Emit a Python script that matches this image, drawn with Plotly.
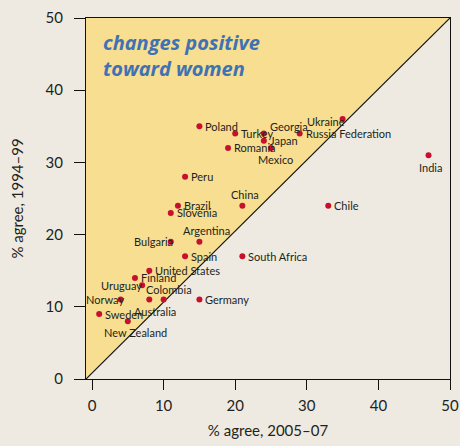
import plotly.graph_objects as go

countries = ["Poland", "Turkey", "Georgia", "Japan", "Mexico", "Romania",
             "Russia Federation", "Ukraine", "Peru", "China", "Chile", "Brazil",
             "Slovenia", "India", "Argentina", "Bulgaria", "Spain", "South Africa",
             "United States", "Finland", "Uruguay", "Norway", "Australia",
             "Colombia", "Germany", "Sweden", "New Zealand"]
agree_2005_07 = [15, 20, 24, 24, 25, 19, 29, 35, 13, 21, 33, 12, 11, 47, 15, 11,
                 13, 21, 8, 6, 7, 4, 8, 10, 15, 1, 5]
agree_1994_99 = [35, 34, 34, 33, 32, 32, 34, 36, 28, 24, 24, 24, 23, 31, 19, 19,
                 17, 17, 15, 14, 13, 11, 11, 11, 11, 9, 8]
tick_values = [0, 10, 20, 30, 40, 50]
x_title = "% agree, 2005–07"
y_title = "% agree, 1994–99"
note_text = "changes positive<br>toward women"

# label placement (style): (xanchor, xshift, yshift)
placement = {
    "Georgia": ("left", 4, 7),
    "Mexico": ("center", 4, -12),
    "China": ("center", 3, 11),
    "India": ("center", 2, -12),
    "Argentina": ("center", 7, 11),
    "Bulgaria": ("right", 4, 0),
    "Uruguay": ("right", 2, 0),
    "Colombia": ("center", 5, 10),
    "Norway": ("right", 5, 0),
    "Australia": ("center", 6, -12),
    "New Zealand": ("center", 8, -11),
    "Ukraine": ("right", 4, -2),
}

BG = "#EEEAE1"
FILL = "#F7DE91"
DOT = "#C8102E"
TXT = "#231F20"
XMIN, XMAX, YMIN, YMAX = -0.84, 50, 0, 50
FONT = "Lato, Liberation Sans, sans-serif"

fig = go.Figure()
# shaded region above the diagonal
fig.add_trace(go.Scatter(x=[XMIN, XMAX, XMIN, XMIN], y=[YMIN, YMAX, YMAX, YMIN],
                         mode="lines", fill="toself", fillcolor=FILL,
                         line=dict(width=0), hoverinfo="skip", showlegend=False))
fig.add_trace(go.Scatter(x=[XMIN, XMAX], y=[YMIN, YMAX], mode="lines",
                         line=dict(color="#111111", width=1.2),
                         hoverinfo="skip", showlegend=False))
fig.add_trace(go.Scatter(x=agree_2005_07, y=agree_1994_99, mode="markers",
                         marker=dict(color=DOT, size=6), text=countries,
                         showlegend=False))

for c, xv, yv in zip(countries, agree_2005_07, agree_1994_99):
    xa, xs, ys = placement.get(c, ("left", 4, 0))
    fig.add_annotation(x=xv, y=yv, text=c, showarrow=False, xanchor=xa,
                       yanchor="middle", xshift=xs, yshift=ys,
                       font=dict(family=FONT, size=11, color=TXT))

fig.add_annotation(x=0.04, y=0.976, xref="paper", yref="paper", text=note_text,
                   showarrow=False, xanchor="left", yanchor="top", align="left",
                   font=dict(family="Open Sans, Lato, sans-serif", size=20,
                             color="#3F72B4", style="italic", weight="bold"))

axis_common = dict(showline=True, linecolor="#111111", linewidth=1.2, mirror=True,
                   ticks="outside", tickcolor="#111111", tickwidth=1.2,
                   showgrid=False, zeroline=False, tickvals=tick_values,
                   automargin=False,
                   tickfont=dict(family=FONT, size=15, color=TXT))

fig.update_xaxes(range=[XMIN, XMAX], ticklen=10, ticklabelstandoff=3,
                 title=dict(text=x_title, standoff=12,
                            font=dict(family=FONT, size=15, color=TXT)),
                 **axis_common)
fig.update_yaxes(range=[YMIN, YMAX], ticklen=11, ticklabelstandoff=8,
                 title=dict(text=y_title, standoff=18,
                            font=dict(family=FONT, size=15, color=TXT)),
                 **axis_common)

fig.update_layout(width=460, height=446, margin=dict(l=86, r=10, t=18, b=67),
                  paper_bgcolor=BG, plot_bgcolor=BG, showlegend=False)

fig.write_html("out.html", config={"displayModeBar": False},
               post_script="document.body.style.margin='0px';")
